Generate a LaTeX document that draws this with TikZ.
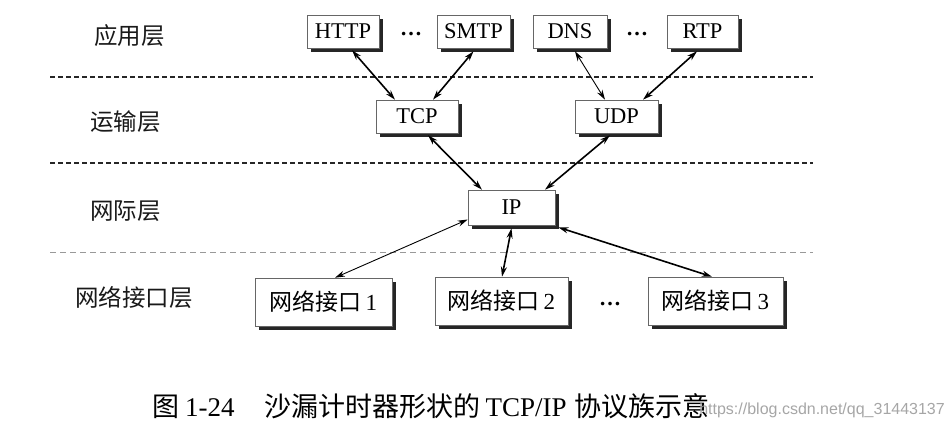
\documentclass[tikz,border=0pt]{standalone}
\usepackage{fontspec}
\setmainfont{Liberation Serif}
\newfontfamily\cjk{Noto Sans CJK SC}
\newfontfamily\wmfont{Liberation Sans}
\usetikzlibrary{arrows.meta,shadows,calc}
\begin{document}
\begin{tikzpicture}[x=1pt,y=-1pt,
 proto/.style={draw=black!60, line width=0.6pt, fill=white, inner sep=0pt,
   font=\fontsize{22.5}{24}\selectfont,
   general shadow={fill=black!85, shadow xshift=3.8pt, shadow yshift=-3.8pt}},
 netif/.style={proto, minimum height=48pt, font=\fontsize{23}{25}\selectfont},
 layer/.style={anchor=west, inner sep=0pt, font=\cjk\fontsize{23.5}{25}\selectfont, text=black!90},
 dots/.style={font=\fontsize{22}{24}\selectfont\bfseries, inner sep=0pt},
 link/.style={{Stealth[length=10pt,width=6pt]}-{Stealth[length=10pt,width=6pt]}, line width=1.6pt},
 thinlink/.style={link, line width=0.9pt},
 sep/.style={line width=2.2pt, dash pattern=on 5pt off 3pt, black!85},
 lightsep/.style={line width=0.8pt, dash pattern=on 6pt off 4pt, black!40}
]
\useasboundingbox (0,0) rectangle (952,430);

% layer separators
\draw[sep] (50,77) -- (813,77);
\draw[sep] (50,163) -- (813,163);
\draw[lightsep] (50,252) -- (813,252);

% layer labels
\node[layer] (l1) at (94,36) {应用层};
\node[layer] (l2) at (90,122) {运输层};
\node[layer] (l3) at (90,211) {网际层};
\node[layer] (l4) at (75,298) {网络接口层};

% application layer
\node[proto, minimum width=72pt, minimum height=33pt] (http) at (343,31.5) {HTTP};
\node[dots] (d1) at (411,34) {…};
\node[proto, minimum width=73pt, minimum height=33pt] (smtp) at (473.5,31.5) {SMTP};
\node[proto, minimum width=74pt, minimum height=33pt] (dns) at (570,31.5) {DNS};
\node[dots] (d2) at (637,34) {…};
\node[proto, minimum width=71pt, minimum height=33pt] (rtp) at (702.5,31.5) {RTP};

% transport layer
\node[proto, minimum width=82pt, minimum height=33pt] (tcp) at (417,116.5) {TCP};
\node[proto, minimum width=83pt, minimum height=33pt] (udp) at (616.5,116.5) {UDP};

% internet layer
\node[proto, minimum width=87pt, minimum height=35pt] (ip) at (511.5,207.5) {IP};

% network interface layer
\node[netif, minimum width=137pt] (ni1) at (323.5,302) {{\cjk 网络接口}\,1};
\node[netif, minimum width=133pt] (ni2) at (501.5,301) {{\cjk 网络接口}\,2};
\node[dots] (d3) at (610,304) {…};
\node[netif, minimum width=135pt] (ni3) at (715.5,301) {{\cjk 网络接口}\,3};

% connectors
\draw[link] ([xshift=9pt,yshift=-2pt]http.south) -- ([xshift=-22pt]tcp.north);
\draw[link] ([xshift=0pt,yshift=-3pt]smtp.south) -- ([xshift=16pt]tcp.north);
\draw[thinlink] ([xshift=5pt,yshift=-3pt]dns.south) -- ([xshift=-11.5pt]udp.north);
\draw[link] ([xshift=-5.5pt,yshift=-3pt]rtp.south) -- ([xshift=26.5pt]udp.north);
\draw[link] ([xshift=11pt,yshift=-2pt]tcp.south) -- ([xshift=-29.5pt]ip.north);
\draw[link] ([xshift=-6.5pt,yshift=-2pt]udp.south) -- ([xshift=33.5pt]ip.north);
\draw[thinlink] ([yshift=-12pt]ip.west) -- ([xshift=11.5pt]ni1.north);
\draw[link] ([yshift=-3pt]ip.south) -- ([xshift=0.5pt]ni2.north);
\draw[link] ([xshift=3pt,yshift=-2pt]ip.south east) -- ([xshift=-3.5pt]ni3.north);

% caption
\node[anchor=west, font=\fontsize{27}{29}\selectfont, inner sep=0pt] (cap) at (152,406)
  {{\cjk 图}\hspace{6pt}1-24\hspace{30pt}{\cjk 沙漏计时器形状的}\hspace{5pt}TCP/IP\hspace{8pt}{\cjk 协议族示意}};
\node[anchor=east, font=\wmfont\fontsize{16}{17}\selectfont, text=black!35, inner sep=0pt] (wm) at (945,410)
  {https://blog.csdn.net/qq\_31443137};
\end{tikzpicture}
\end{document}
